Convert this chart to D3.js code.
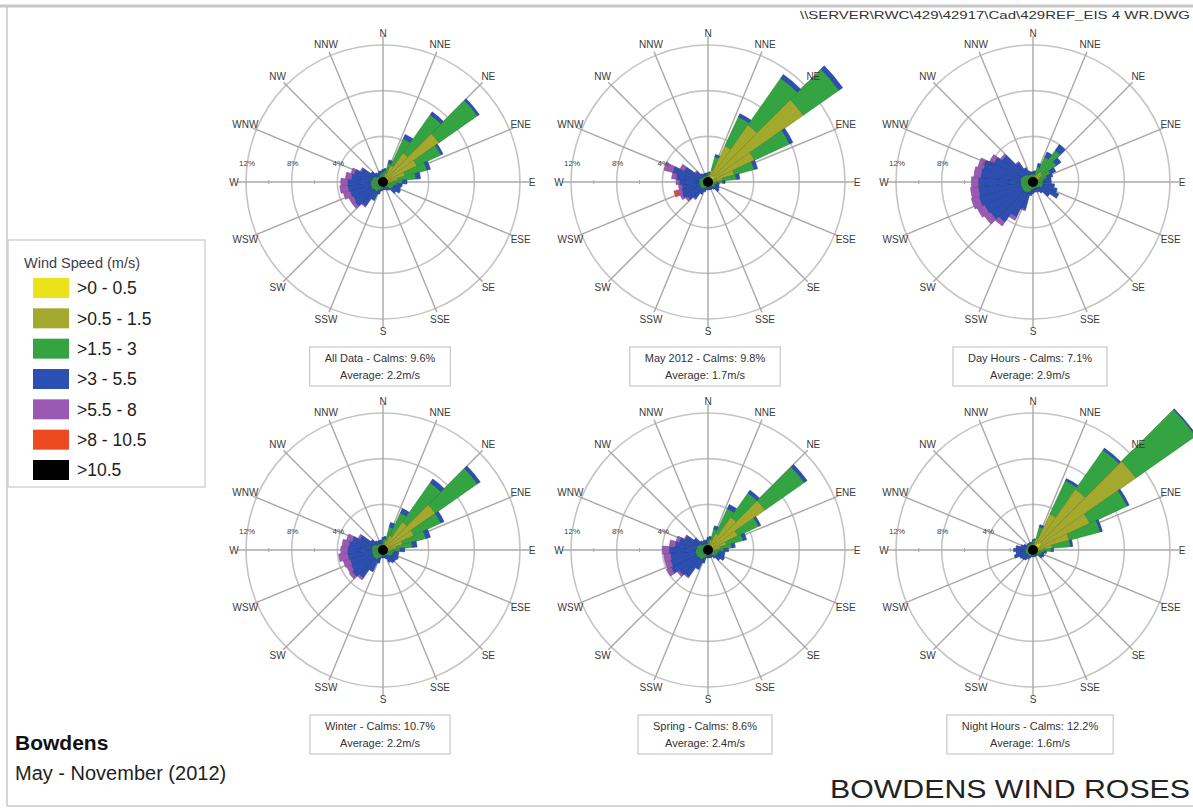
<!DOCTYPE html>
<html>
<head>
<meta charset="utf-8">
<script src="https://cdn.jsdelivr.net/npm/d3@7"></script>
<style>
  html, body { margin: 0; padding: 0; background: #fff; }
  svg { display: block; font-family: "Liberation Sans", Arial, sans-serif; }
</style>
</head>
<body>
<div id="chart"></div>
<script>
// Speed classes (legend) and colours
const speedClasses = ['>0 - 0.5', '>0.5 - 1.5', '>1.5 - 3', '>3 - 5.5', '>5.5 - 8', '>8 - 10.5', '>10.5'];
const classColors = ['#ece21c', '#a3a92c', '#34a443', '#2b4fb2', '#9a5ab4', '#ee4a22', '#000000'];

// Sector bearings (deg) and compass labels
const sectorBearings = [0, 10, 20, 30, 40, 50, 60, 70, 80, 90, 100, 110, 120, 130, 140, 150, 160, 170,
  180, 190, 200, 210, 220, 230, 240, 250, 260, 270, 280, 290, 300, 310, 320, 330, 340, 350];
const compassLabels = ['N', 'NNE', 'NE', 'ENE', 'E', 'ESE', 'SE', 'SSE', 'S', 'SSW', 'SW', 'WSW', 'W', 'WNW', 'NW', 'NNW'];
const ringTicks = [4, 8, 12];
const minorTicks = [2, 6, 10];

// Frequencies (%) per sector, one row per bearing: [>0-0.5, >0.5-1.5, >1.5-3, >3-5.5, >5.5-8, >8-10.5]
const allData = [
  [0.2,0.3,0.4,0.2],[0.2,0.3,0.5,0.2],[0.3,0.5,0.9,0.3],[0.4,1.2,2.6,0.4],[0.5,2.6,4.1,0.3],[0.6,5.4,4.1,0.2],
  [0.5,2.8,2.3,0.2],[0.4,1.6,2.0,0.3],[0.3,1.0,1.6,0.4],[0.3,0.6,0.8,0.4],[0.2,0.4,0.6,0.5],[0.2,0.3,0.5,0.6],
  [0.2,0.3,0.5,0.7],[0.2,0.3,0.4,0.5],[0.1,0.2,0.3,0.3],[0.1,0.2,0.3,0.2],[0.1,0.2,0.2,0.2],[0.1,0.2,0.2,0.2],
  [0.1,0.2,0.2,0.2],[0.1,0.2,0.3,0.2],[0.1,0.2,0.4,0.4],[0.1,0.2,0.5,1.0],[0.1,0.3,0.6,1.6,0.1],[0.1,0.3,0.6,2.0,0.3],
  [0.1,0.3,0.7,1.8,0.4],[0.1,0.3,0.7,1.9,0.6],[0.1,0.3,0.7,2.0,0.7],[0.1,0.3,0.7,2.0,0.6],[0.1,0.3,0.6,1.8,0.5],[0.1,0.3,0.6,1.6,0.3],
  [0.1,0.3,0.5,1.2,0.1],[0.1,0.2,0.4,0.6],[0.1,0.2,0.3,0.4],[0.1,0.2,0.3,0.3],[0.1,0.2,0.4,0.3],[0.2,0.2,0.4,0.2]
];
const may2012 = [
  [0.2,0.2,0.3,0.1],[0.2,0.3,0.3,0.1],[0.3,0.8,1.2,0.2],[0.5,3.0,2.8,0.3],[0.6,5.5,5.0,0.4],[0.7,9.5,3.8,0.4],
  [0.5,4.0,3.4,0.3],[0.4,2.0,1.8,0.3],[0.3,1.0,1.2,0.3],[0.2,0.5,0.6,0.2],[0.2,0.3,0.3,0.2],[0.1,0.3,0.3,0.3],
  [0.1,0.3,0.3,0.4],[0.1,0.3,0.3,0.5],[0.1,0.2,0.2,0.3],[0.1,0.2,0.2,0.2],[0.1,0.2,0.2,0.2],[0.1,0.2,0.2,0.2],
  [0.1,0.2,0.2,0.2],[0.1,0.2,0.2,0.2],[0.1,0.2,0.3,0.3],[0.1,0.2,0.3,0.6],[0.1,0.2,0.4,1.1,0.1],[0.1,0.2,0.5,1.4,0.2],
  [0.1,0.2,0.5,1.7,0.2],[0.1,0.2,0.5,1.6,0.4,0.3],[0.1,0.2,0.5,1.5,0.3],[0.1,0.2,0.5,1.7,0.3],[0.1,0.2,0.5,2.0,0.4],[0.1,0.2,0.5,2.4,0.8],
  [0.1,0.2,0.4,1.6,0.4],[0.1,0.2,0.3,0.7,0.1],[0.1,0.2,0.3,0.3],[0.1,0.2,0.3,0.2],[0.1,0.2,0.3,0.2],[0.1,0.2,0.3,0.2]
];
const dayHours = [
  [0.1,0.2,0.4,0.2],[0.1,0.2,0.4,0.3],[0.2,0.4,0.8,0.3],[0.2,0.6,1.6,0.5],[0.3,0.8,2.3,0.6],[0.3,0.7,1.5,0.5],
  [0.2,0.5,1.0,0.5],[0.1,0.4,0.8,0.5],[0.1,0.3,0.6,0.6],[0.1,0.3,0.5,0.7],[0.1,0.3,0.5,1.0],[0.1,0.3,0.5,1.3],
  [0.1,0.3,0.5,1.6],[0.1,0.2,0.4,1.1],[0.1,0.2,0.3,0.6],[0.1,0.2,0.3,0.4],[0.1,0.2,0.3,0.3],[0.1,0.2,0.3,0.3],
  [0.1,0.2,0.3,0.4],[0.1,0.2,0.4,0.5],[0.1,0.2,0.6,1.6,0.1],[0.1,0.2,0.7,2.4,0.3],[0.1,0.2,0.8,3.2,0.4],[0.1,0.2,0.8,3.5,0.6],
  [0.1,0.2,0.8,3.6,0.7],[0.1,0.2,0.8,3.8,0.7],[0.1,0.2,0.8,3.7,0.7],[0.1,0.2,0.8,3.7,0.6],[0.1,0.2,0.8,3.5,0.6],[0.1,0.2,0.8,3.4,0.5],
  [0.1,0.2,0.7,2.8,0.4],[0.1,0.2,0.6,2.4,0.2],[0.1,0.2,0.5,1.3,0.1],[0.1,0.2,0.4,0.7],[0.1,0.2,0.4,0.3],[0.1,0.2,0.4,0.2]
];
const winter = [
  [0.2,0.3,0.4,0.2],[0.2,0.3,0.5,0.2],[0.3,0.6,1.2,0.4],[0.4,1.0,2.2,0.4],[0.5,2.5,4.2,0.4],[0.6,5.0,4.5,0.3],
  [0.5,2.5,2.6,0.3],[0.4,1.4,2.1,0.4],[0.3,0.9,1.4,0.4],[0.3,0.5,0.7,0.4],[0.2,0.3,0.5,0.4],[0.2,0.3,0.4,0.5],
  [0.2,0.3,0.4,0.6],[0.1,0.3,0.4,0.6],[0.1,0.2,0.3,0.8],[0.1,0.2,0.3,0.6],[0.1,0.2,0.2,0.3],[0.1,0.2,0.2,0.2],
  [0.1,0.2,0.2,0.2],[0.1,0.2,0.2,0.2],[0.1,0.2,0.4,0.5],[0.1,0.2,0.5,1.3],[0.1,0.3,0.6,2.0,0.2],[0.1,0.3,0.6,2.3,0.3],
  [0.1,0.3,0.6,2.1,0.4],[0.1,0.3,0.6,2.0,0.6],[0.1,0.3,0.6,2.1,0.8],[0.1,0.3,0.6,2.1,0.6],[0.1,0.3,0.6,2.0,0.6],[0.1,0.3,0.6,1.8,0.5],
  [0.1,0.3,0.5,1.3,0.2],[0.1,0.2,0.4,0.6],[0.1,0.2,0.3,0.4],[0.1,0.2,0.3,0.3],[0.1,0.2,0.3,0.3],[0.1,0.2,0.3,0.3]
];
const spring = [
  [0.2,0.3,0.4,0.2],[0.2,0.3,0.5,0.2],[0.3,0.6,1.0,0.3],[0.4,1.2,2.4,0.4],[0.5,3.0,2.6,0.3],[0.6,5.5,4.2,0.3],
  [0.5,2.4,2.0,0.2],[0.4,1.3,1.5,0.3],[0.3,0.8,1.0,0.3],[0.3,0.5,0.6,0.4],[0.2,0.3,0.5,0.5],[0.2,0.3,0.4,0.6],
  [0.2,0.3,0.4,0.7],[0.1,0.3,0.4,0.5],[0.1,0.2,0.3,0.3],[0.1,0.2,0.2,0.2],[0.1,0.2,0.2,0.2],[0.1,0.2,0.2,0.2],
  [0.1,0.2,0.2,0.2],[0.1,0.2,0.2,0.2],[0.1,0.2,0.4,0.5],[0.1,0.2,0.5,1.1],[0.1,0.3,0.6,1.9,0.1],[0.1,0.3,0.6,2.1,0.2],
  [0.1,0.3,0.7,2.5,0.4],[0.1,0.3,0.7,2.3,0.5],[0.1,0.3,0.7,2.2,0.6],[0.1,0.3,0.7,2.3,0.6],[0.1,0.3,0.6,1.9,0.5],[0.1,0.3,0.6,1.6,0.3],
  [0.1,0.3,0.5,1.3,0.1],[0.1,0.2,0.4,0.8],[0.1,0.2,0.3,0.4],[0.1,0.2,0.3,0.3],[0.1,0.2,0.3,0.3],[0.1,0.2,0.3,0.3]
];
const nightHours = [
  [0.2,0.3,0.3,0.1],[0.2,0.3,0.4,0.1],[0.3,0.8,1.0,0.2],[0.5,3.0,3.2,0.2],[0.7,5.8,4.2,0.2],[0.9,10.1,6.4,0.1],
  [0.7,4.8,3.6,0.2],[0.5,2.8,2.8,0.2],[0.4,1.3,1.6,0.2],[0.3,0.6,0.7,0.2],[0.2,0.4,0.4,0.2],[0.2,0.3,0.3,0.2],
  [0.2,0.3,0.3,0.3],[0.1,0.3,0.3,0.3],[0.1,0.2,0.2,0.1],[0.1,0.2,0.2,0.1],[0.1,0.2,0.2,0.1],[0.1,0.2,0.2,0.1],
  [0.1,0.2,0.2,0.1],[0.1,0.2,0.2,0.1],[0.1,0.2,0.2,0.2],[0.1,0.2,0.3,0.3],[0.1,0.2,0.3,0.5],[0.1,0.2,0.3,0.6],
  [0.1,0.2,0.3,0.7],[0.1,0.2,0.4,1.0],[0.1,0.2,0.4,0.8],[0.1,0.2,0.4,1.0],[0.1,0.2,0.4,0.8],[0.1,0.2,0.3,0.5],
  [0.1,0.2,0.3,0.3],[0.1,0.2,0.3,0.1],[0.1,0.2,0.3,0.1],[0.1,0.2,0.3,0.1],[0.1,0.2,0.3,0.1],[0.1,0.2,0.3,0.1]
];

const roseTitles = ['All Data', 'May 2012', 'Day Hours', 'Winter', 'Spring', 'Night Hours'];
const roseCalms = ['9.6%', '9.8%', '7.1%', '10.7%', '8.6%', '12.2%'];
const roseAverages = ['2.2m/s', '1.7m/s', '2.9m/s', '2.2m/s', '2.4m/s', '1.6m/s'];
const roseData = [allData, may2012, dayHours, winter, spring, nightHours];

// Layout
const W = 1193, H = 808;
const colX = [383, 708, 1033];
const rowY = [182, 550];
const captionDy = 176;

const svg = d3.select('#chart').append('svg')
  .attr('width', W).attr('height', H);

// Frame
svg.append('line').attr('x1', 0).attr('x2', W).attr('y1', 6).attr('y2', 6)
  .attr('stroke', '#c8c8c8').attr('stroke-width', 3);
svg.append('line').attr('x1', 7).attr('x2', 7).attr('y1', 6).attr('y2', 806)
  .attr('stroke', '#c8c8c8').attr('stroke-width', 1.5);
svg.append('line').attr('x1', 7).attr('x2', W).attr('y1', 806).attr('y2', 806)
  .attr('stroke', '#c8c8c8').attr('stroke-width', 1.5);

svg.append('text')
  .attr('x', 1190).attr('y', 19)
  .attr('text-anchor', 'end')
  .attr('font-size', 11)
  .attr('fill', '#333')
  .attr('textLength', 390).attr('lengthAdjust', 'spacingAndGlyphs')
  .text('\\\\SERVER\\RWC\\429\\42917\\Cad\\429REF_EIS 4 WR.DWG');

// Radius scale, percent -> px
const r = d3.scaleLinear().domain([0, 12]).range([0, 137]);
const toRad = deg => deg * Math.PI / 180;

roseData.forEach((rows, i) => {
  const cx = colX[i % 3], cy = rowY[Math.floor(i / 3)];
  const g = svg.append('g').attr('transform', `translate(${cx},${cy})`);

  // rings
  g.selectAll('circle.ring').data(ringTicks).enter().append('circle')
    .attr('class', 'ring')
    .attr('r', d => r(d))
    .attr('fill', 'none')
    .attr('stroke', '#c4c4c4')
    .attr('stroke-width', 1.6);

  // spokes
  g.selectAll('line.spoke').data(compassLabels).enter().append('line')
    .attr('class', 'spoke')
    .attr('x1', 0).attr('y1', 0)
    .attr('x2', (d, k) => Math.sin(toRad(k * 22.5)) * (k % 4 === 0 ? 146 : 141))
    .attr('y2', (d, k) => -Math.cos(toRad(k * 22.5)) * (k % 4 === 0 ? 146 : 141))
    .attr('stroke', '#a8a8a8')
    .attr('stroke-width', 1.4);

  // minor ticks on W axis
  g.selectAll('line.tick').data(minorTicks).enter().append('line')
    .attr('x1', d => -r(d)).attr('x2', d => -r(d))
    .attr('y1', -2).attr('y2', 2)
    .attr('stroke', '#a8a8a8').attr('stroke-width', 1);

  // stacked petals
  const petals = [];
  rows.forEach((vals, k) => {
    let cum = 0;
    vals.forEach((v, c) => {
      if (v > 0) petals.push({ bearing: sectorBearings[k], inner: cum, outer: cum + v, cls: c });
      cum += v;
    });
  });
  const arc = d3.arc()
    .innerRadius(d => r(d.inner))
    .outerRadius(d => r(d.outer))
    .startAngle(d => toRad(d.bearing - 5))
    .endAngle(d => toRad(d.bearing + 5));
  g.selectAll('path.petal').data(petals).enter().append('path')
    .attr('class', 'petal')
    .attr('d', arc)
    .attr('fill', d => classColors[d.cls])
    .attr('stroke', d => d3.color(classColors[d.cls]).darker(0.8))
    .attr('stroke-width', 0.5);

  g.append('circle').attr('r', 5).attr('fill', '#000');

  // compass labels
  g.selectAll('text.dir').data(compassLabels).enter().append('text')
    .attr('class', 'dir')
    .attr('x', (d, k) => Math.sin(toRad(k * 22.5)) * 149)
    .attr('y', (d, k) => -Math.cos(toRad(k * 22.5)) * 149)
    .attr('dy', '0.35em')
    .attr('text-anchor', 'middle')
    .attr('font-size', 10)
    .attr('fill', '#3a3a3a')
    .text(d => d);

  // ring labels
  g.selectAll('text.pct').data(ringTicks).enter().append('text')
    .attr('x', d => -r(d) + 1)
    .attr('y', -16)
    .attr('text-anchor', 'middle')
    .attr('font-size', 8)
    .attr('fill', '#444')
    .text(d => d + '%');

  // caption box
  const cap = g.append('g').attr('transform', `translate(-3,${captionDy})`);
  const t1 = cap.append('text').attr('text-anchor', 'middle').attr('y', 4)
    .attr('font-size', 11).attr('fill', '#333')
    .text(`${roseTitles[i]} - Calms: ${roseCalms[i]}`);
  cap.append('text').attr('text-anchor', 'middle').attr('y', 21)
    .attr('font-size', 11).attr('fill', '#333')
    .text(`Average: ${roseAverages[i]}`);
  const tw = t1.node().getComputedTextLength() + 30;
  cap.insert('rect', 'text')
    .attr('x', -tw / 2).attr('y', -11)
    .attr('width', tw).attr('height', 39)
    .attr('fill', '#fff')
    .attr('stroke', '#c8c8c8').attr('stroke-width', 1.2);
});

// Legend
const legend = svg.append('g');
legend.append('rect')
  .attr('x', 8).attr('y', 240).attr('width', 197).attr('height', 247)
  .attr('fill', '#fff').attr('stroke', '#c8c8c8').attr('stroke-width', 1.2);
legend.append('text')
  .attr('x', 24).attr('y', 268)
  .attr('font-size', 14.5).attr('fill', '#3d3d4d')
  .text('Wind Speed (m/s)');
const legendY = d3.scaleLinear().domain([0, 6]).range([288, 470]);
speedClasses.forEach((label, c) => {
  legend.append('rect')
    .attr('x', 33).attr('y', legendY(c) - 10)
    .attr('width', 36).attr('height', 20)
    .attr('fill', classColors[c]);
  legend.append('text')
    .attr('x', 77).attr('y', legendY(c)).attr('dy', '0.36em')
    .attr('font-size', 17.5).attr('fill', '#222')
    .text(label);
});

// Titles
svg.append('text').attr('x', 15).attr('y', 750)
  .attr('font-size', 21).attr('font-weight', 'bold').attr('fill', '#111')
  .text('Bowdens');
svg.append('text').attr('x', 15).attr('y', 780)
  .attr('font-size', 20).attr('fill', '#222')
  .text('May - November (2012)');
svg.append('text').attr('x', 1190).attr('y', 798)
  .attr('text-anchor', 'end')
  .attr('font-size', 26).attr('fill', '#222')
  .attr('textLength', 360).attr('lengthAdjust', 'spacingAndGlyphs')
  .text('BOWDENS WIND ROSES');
</script>
</body>
</html>
